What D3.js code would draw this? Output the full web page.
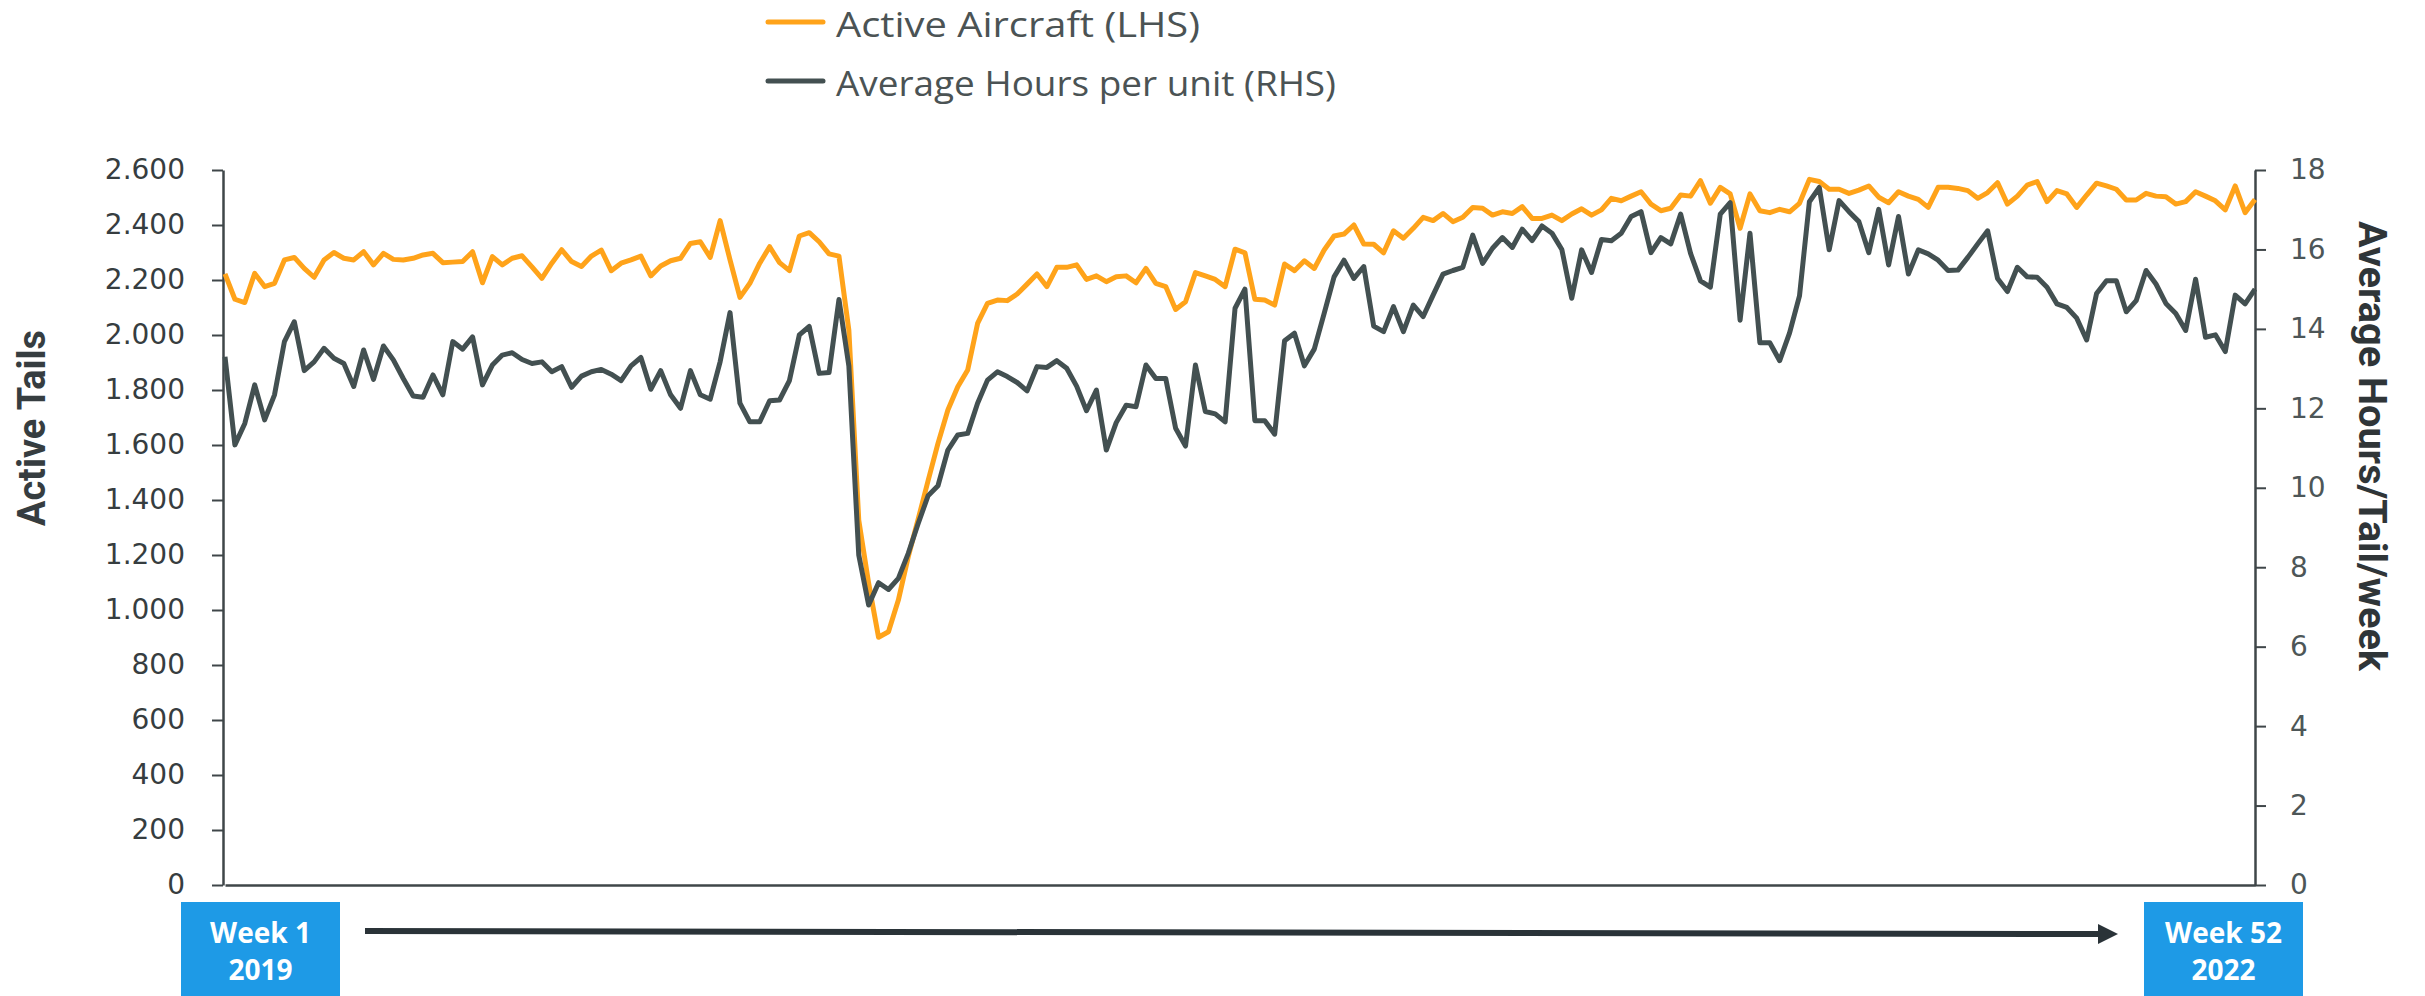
<!DOCTYPE html>
<html>
<head>
<meta charset="utf-8">
<script src="https://cdn.jsdelivr.net/npm/d3@7"></script>
<style>
  body { margin: 0; background: #fff; }
  svg { display: block; }
</style>
</head>
<body>
<div id="chart"></div>
<script>
// weekly values, week 1 2019 .. week 52 2022
const activeAircraft = [
  2222, 2130, 2118, 2224, 2176, 2188, 2273, 2282, 2242, 2210,
  2273, 2300, 2279, 2273, 2303, 2255, 2297, 2275, 2273, 2279,
  2291, 2297, 2263, 2265, 2267, 2303, 2190, 2285, 2255, 2279,
  2288, 2248, 2206, 2261, 2310, 2267, 2249, 2287, 2309, 2234,
  2261, 2273, 2287, 2215, 2251, 2270, 2279, 2333, 2339, 2282,
  2416, 2273, 2137, 2188, 2261, 2321, 2263, 2234, 2360, 2372,
  2339, 2295, 2287, 2018, 1327, 1097, 901, 921, 1036, 1194,
  1330, 1470, 1606, 1727, 1812, 1873, 2042, 2115, 2127, 2125,
  2149, 2185, 2222, 2176, 2246, 2246, 2255, 2202, 2215, 2194,
  2212, 2215, 2190, 2242, 2188, 2176, 2093, 2121, 2227, 2215,
  2202, 2176, 2312, 2299, 2130, 2127, 2109, 2258, 2234, 2270,
  2242, 2309, 2360, 2367, 2400, 2331, 2330, 2299, 2379, 2352,
  2388, 2428, 2416, 2442, 2412, 2428, 2464, 2461, 2436, 2448,
  2442, 2467, 2424, 2424, 2436, 2416, 2440, 2459, 2436, 2455,
  2497, 2488, 2505, 2521, 2476, 2452, 2461, 2509, 2505, 2561,
  2479, 2537, 2513, 2388, 2513, 2452, 2445, 2457, 2448, 2479,
  2566, 2558, 2530, 2530, 2515, 2527, 2542, 2501, 2481, 2521,
  2505, 2493, 2464, 2537, 2537, 2533, 2525, 2497, 2518, 2554,
  2476, 2505, 2545, 2558, 2485, 2525, 2513, 2464, 2509, 2552,
  2542, 2530, 2491, 2491, 2515, 2505, 2503, 2476, 2485, 2521,
  2505, 2488, 2455, 2542, 2445, 2493
]

const avgHours = [
  13.30, 11.08, 11.62, 12.59, 11.71, 12.34, 13.68, 14.18, 12.95, 13.17,
  13.51, 13.26, 13.13, 12.55, 13.47, 12.73, 13.57, 13.22, 12.75, 12.31,
  12.28, 12.84, 12.34, 13.68, 13.49, 13.80, 12.59, 13.09, 13.34, 13.40,
  13.23, 13.13, 13.17, 12.92, 13.05, 12.53, 12.81, 12.92, 12.98, 12.86,
  12.70, 13.07, 13.28, 12.48, 12.95, 12.34, 12.00, 12.95, 12.34, 12.23,
  13.17, 14.41, 12.13, 11.66, 11.66, 12.19, 12.21, 12.70, 13.85, 14.06,
  12.88, 12.90, 14.74, 13.07, 8.31, 7.05, 7.61, 7.44, 7.72, 8.35,
  9.10, 9.80, 10.05, 10.95, 11.33, 11.37, 12.13, 12.71, 12.92, 12.80,
  12.65, 12.44, 13.05, 13.03, 13.20, 13.01, 12.56, 11.94, 12.46, 10.95,
  11.64, 12.08, 12.04, 13.09, 12.75, 12.75, 11.50, 11.05, 13.09, 11.92,
  11.86, 11.66, 14.52, 15.00, 11.69, 11.69, 11.35, 13.70, 13.89, 13.07,
  13.49, 14.39, 15.31, 15.73, 15.27, 15.57, 14.07, 13.93, 14.56, 13.93,
  14.60, 14.31, 14.85, 15.38, 15.47, 15.55, 16.36, 15.65, 16.03, 16.30,
  16.05, 16.51, 16.22, 16.59, 16.41, 16.00, 14.77, 15.99, 15.42, 16.25,
  16.22, 16.41, 16.83, 16.95, 15.92, 16.30, 16.14, 16.89, 15.90, 15.21,
  15.05, 16.89, 17.18, 14.22, 16.41, 13.65, 13.65, 13.20, 13.90, 14.83,
  17.20, 17.56, 15.99, 17.23, 16.95, 16.70, 15.92, 17.01, 15.61, 16.83,
  15.38, 15.99, 15.89, 15.73, 15.47, 15.48, 15.80, 16.14, 16.47, 15.27,
  14.94, 15.55, 15.31, 15.30, 15.05, 14.63, 14.54, 14.27, 13.72, 14.89,
  15.21, 15.21, 14.43, 14.71, 15.47, 15.13, 14.64, 14.39, 13.96, 15.25,
  13.79, 13.85, 13.43, 14.85, 14.63, 15.00
]

const leftTicks = [0, 200, 400, 600, 800, 1000, 1200, 1400, 1600, 1800, 2000, 2200, 2400, 2600]
const rightTicks = [0, 2, 4, 6, 8, 10, 12, 14, 16, 18]
const seriesNames = ['Active Aircraft (LHS)', 'Average Hours per unit (RHS)']
const startLabel = ['Week 1', '2019']
const endLabel = ['Week 52', '2022']

const W = 2425, H = 996
const plot = { left: 223, right: 2255, top: 170, bottom: 885 }
const ORANGE = '#ffa31a'
const GREY = '#435051'
const BLUE = '#1e9ae6'

const svg = d3.select('#chart')
  .append('svg')
  .attr('width', W)
  .attr('height', H)

const x = d3.scaleLinear()
  .domain([0, activeAircraft.length - 1])
  .range([plot.left + 2, plot.right])

const yLeft = d3.scaleLinear()
  .domain([0, 2600])
  .range([plot.bottom, plot.top])

const yRight = d3.scaleLinear()
  .domain([0, 18])
  .range([plot.bottom, plot.top])

// 2.600 style thousands
const fmt = d3.formatLocale({ decimal: ',', thousands: '.', grouping: [3], currency: ['', ''] }).format(',')

// axes
const leftAxis = svg.append('g')
  .attr('transform', `translate(${plot.left},0)`)
  .call(d3.axisLeft(yLeft).tickValues(leftTicks).tickFormat(fmt).tickSize(11).tickSizeOuter(0).tickPadding(27))

const rightAxis = svg.append('g')
  .attr('transform', `translate(${plot.right},0)`)
  .call(d3.axisRight(yRight).tickValues(rightTicks).tickSize(11).tickSizeOuter(0).tickPadding(24))

const bottomAxis = svg.append('g')
  .attr('transform', `translate(0,${plot.bottom})`)
  .call(d3.axisBottom(x).tickValues([]).tickSizeOuter(0))

;[leftAxis, rightAxis, bottomAxis].forEach(g => {
  g.select('.domain').attr('stroke', '#3f4649').attr('stroke-width', 2.5)
  g.selectAll('.tick line').attr('stroke', '#3f4649').attr('stroke-width', 2)
})

leftAxis.selectAll('.tick text')
  .style('font-family', '"DejaVu Sans", sans-serif')
  .style('font-size', '28px')
  .attr('fill', '#363d40')

rightAxis.selectAll('.tick text')
  .style('font-family', '"DejaVu Sans", sans-serif')
  .style('font-size', '28px')
  .attr('fill', '#4d5657')

// axis titles
svg.append('text')
  .attr('transform', 'translate(45,428) rotate(-90)')
  .attr('text-anchor', 'middle')
  .attr('textLength', 196)
  .attr('lengthAdjust', 'spacingAndGlyphs')
  .style('font-family', 'Roboto, sans-serif')
  .style('font-weight', 'bold')
  .style('font-size', '38px')
  .attr('fill', '#363d40')
  .text('Active Tails')

svg.append('text')
  .attr('transform', 'translate(2359,446) rotate(90)')
  .attr('text-anchor', 'middle')
  .attr('textLength', 450)
  .attr('lengthAdjust', 'spacingAndGlyphs')
  .style('font-family', 'Roboto, sans-serif')
  .style('font-weight', 'bold')
  .style('font-size', '39px')
  .attr('fill', '#2f3538')
  .text('Average Hours/Tail/week')

// lines
const lineLeft = d3.line()
  .x((d, i) => x(i))
  .y(d => yLeft(d))

const lineRight = d3.line()
  .x((d, i) => x(i))
  .y(d => yRight(d))

svg.append('path')
  .datum(activeAircraft)
  .attr('d', lineLeft)
  .attr('fill', 'none')
  .attr('stroke', ORANGE)
  .attr('stroke-width', 5)
  .attr('stroke-linejoin', 'round')

svg.append('path')
  .datum(avgHours)
  .attr('d', lineRight)
  .attr('fill', 'none')
  .attr('stroke', GREY)
  .attr('stroke-width', 5)
  .attr('stroke-linejoin', 'round')

// legend
const legendWidths = [364, 500]

const legend = svg.append('g')
  .selectAll('g')
  .data(seriesNames)
  .enter()
  .append('g')
  .attr('transform', (d, i) => `translate(0,${22 + i * 59})`)

legend.append('line')
  .attr('x1', 768).attr('x2', 823)
  .attr('stroke', (d, i) => i === 0 ? ORANGE : GREY)
  .attr('stroke-width', 5)
  .attr('stroke-linecap', 'round')

legend.append('text')
  .attr('x', 836)
  .attr('y', 15)
  .attr('textLength', (d, i) => legendWidths[i])
  .attr('lengthAdjust', 'spacingAndGlyphs')
  .style('font-family', '"Open Sans", sans-serif')
  .style('font-size', '35px')
  .attr('fill', '#4b5354')
  .text(d => d)

// week boxes + arrow
const boxes = [
  { x: 181, label: startLabel },
  { x: 2144, label: endLabel }
]

const box = svg.append('g')
  .selectAll('g')
  .data(boxes)
  .enter()
  .append('g')

box.append('rect')
  .attr('x', d => d.x)
  .attr('y', 902)
  .attr('width', 159)
  .attr('height', 100)
  .attr('fill', BLUE)

box.append('text')
  .attr('x', d => d.x + 79.5)
  .attr('y', 943)
  .attr('text-anchor', 'middle')
  .style('font-family', '"Open Sans", sans-serif')
  .style('font-weight', 'bold')
  .style('font-size', '28px')
  .attr('fill', '#fff')
  .text(d => d.label[0])

box.append('text')
  .attr('x', d => d.x + 79.5)
  .attr('y', 980)
  .attr('text-anchor', 'middle')
  .style('font-family', '"Open Sans", sans-serif')
  .style('font-weight', 'bold')
  .style('font-size', '28px')
  .attr('fill', '#fff')
  .text(d => d.label[1])

svg.append('line')
  .attr('x1', 365).attr('y1', 931)
  .attr('x2', 2102).attr('y2', 934)
  .attr('stroke', '#2a3338')
  .attr('stroke-width', 6)

svg.append('path')
  .attr('d', 'M2098,924 L2118,934 L2098,944 Z')
  .attr('fill', '#2a3338')
</script>
</body>
</html>
